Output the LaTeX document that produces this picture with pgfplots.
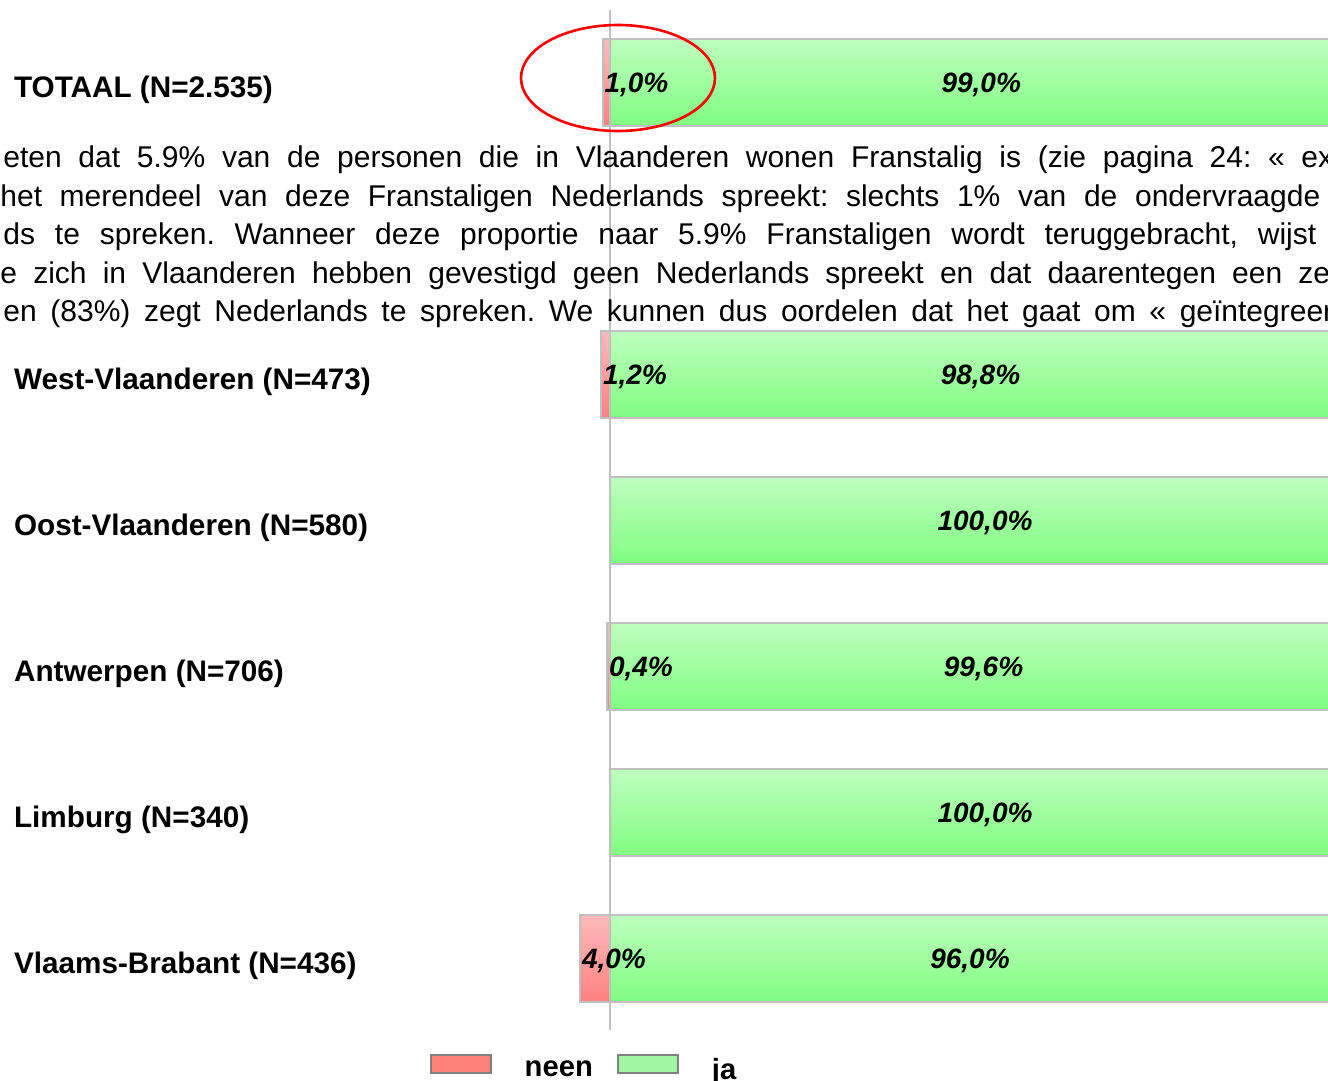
\documentclass[border=0pt]{standalone}
\usepackage{fontspec}
\setmainfont{Liberation Sans}
\usepackage{pgfplots}
\usepackage{pgfplotstable}
\pgfplotsset{compat=1.18}
\frenchspacing
\definecolor{grn1}{RGB}{190,255,190}
\definecolor{grn2}{RGB}{128,252,128}
\definecolor{red1}{RGB}{255,186,186}
\definecolor{red2}{RGB}{255,128,128}
\definecolor{bord}{RGB}{192,192,192}
\definecolor{legred}{RGB}{255,130,122}
\definecolor{leggrn}{RGB}{160,245,160}

\pgfplotstableread{
y x lab
0 -1.0 1,0\%
2 -1.2 1,2\%
4 -0.4 0,4\%
6 -4.0 4,0\%
}\neen
\pgfplotstableread{
y x lab
0 99.0 99,0\%
2 98.8 98,8\%
3 100.0 100,0\%
4 99.6 99,6\%
5 100.0 100,0\%
6 96.0 96,0\%
}\ja

\tikzset{valfont/.style={font=\bfseries\itshape\fontsize{14}{16}\selectfont}}
\pgfplotsset{
  redbar/.style={xbar, bar width=0.596, bar shift=0pt, draw=bord, line width=1pt,
    top color=red1, bottom color=red2, forget plot,
    nodes near coords, point meta=explicit symbolic,
    every node near coord/.append style={anchor=west, inner sep=0.5pt, yshift=-1pt, text=black, valfont}},
  grnbar/.style={xbar, bar width=0.596, bar shift=0pt, draw=bord, line width=1pt,
    top color=grn1, bottom color=grn2, forget plot},
}

\begin{document}
\begin{tikzpicture}
\begin{axis}[
  at={(0,0)}, anchor=north west,
  width=664pt, height=540.5pt, scale only axis,
  xmin=-81.33, xmax=95.73, ymin=-0.568, ymax=6.836, y dir=reverse,
  axis line style={draw=none}, xtick=\empty,
  ytick={0,2,3,4,5,6},
  yticklabels={TOTAAL (N=2.535), West-Vlaanderen (N=473), Oost-Vlaanderen (N=580), Antwerpen (N=706), Limburg (N=340), Vlaams-Brabant (N=436)},
  major tick length=0pt,
  yticklabel style={anchor=west, xshift=3.5pt, yshift=-3.5pt, font=\bfseries\fontsize{14.85}{17}\selectfont},
  legend columns=2,
  legend style={at={(axis description cs:0.4405,0.0102)}, anchor=center, draw=none, fill=none,
    font=\bfseries\fontsize{14.6}{17}\selectfont,
    /tikz/every odd column/.append style={column sep=14.5pt},
    /tikz/every even column/.append style={column sep=10pt}},
]
\addlegendimage{legend image code/.code={\draw[draw=gray, fill=legred, line width=1pt] (0pt,-1.5pt) rectangle (30pt,7.5pt);}}
\addlegendentry{neen}
\addlegendimage{legend image code/.code={\draw[draw=gray, fill=leggrn, line width=1pt] (0pt,-1.5pt) rectangle (30pt,7.5pt);}}
\addlegendentry{ja}
\draw[bord, line width=1.4pt] (axis cs:0,-0.5) -- (axis cs:0,6.486);
% neen bars (one per row, so that each has its own gradient)
\addplot[redbar, restrict y to domain=-0.1:0.1] table[x=x, y=y, meta=lab]{\neen};
\addplot[redbar, restrict y to domain=1.9:2.1] table[x=x, y=y, meta=lab]{\neen};
\addplot[redbar, restrict y to domain=3.9:4.1] table[x=x, y=y, meta=lab]{\neen};
\addplot[redbar, restrict y to domain=5.9:6.1] table[x=x, y=y, meta=lab]{\neen};
% ja bars
\addplot[grnbar, restrict y to domain=-0.1:0.1] table[x=x, y=y]{\ja};
\addplot[grnbar, restrict y to domain=1.9:2.1] table[x=x, y=y]{\ja};
\addplot[grnbar, restrict y to domain=2.9:3.1] table[x=x, y=y]{\ja};
\addplot[grnbar, restrict y to domain=3.9:4.1] table[x=x, y=y]{\ja};
\addplot[grnbar, restrict y to domain=4.9:5.1] table[x=x, y=y]{\ja};
\addplot[grnbar, restrict y to domain=5.9:6.1] table[x=x, y=y]{\ja};
% ja labels, centred in the bars
\addplot[draw=none, mark=none, forget plot, nodes near coords, point meta=explicit symbolic,
  every node near coord/.append style={anchor=center, yshift=-1pt, text=black, valfont}]
  table[x expr=\thisrow{x}/2, y=y, meta=lab]{\ja};
\end{axis}
\begin{scope}[x=0.5pt, y=-0.5pt]
\begin{scope}[every node/.style={anchor=base west, inner sep=0pt, font=\fontsize{15}{17}\selectfont}]
\node at (3,168) {\makebox[665pt][s]{eten dat 5.9\% van de personen die in Vlaanderen wonen Franstalig is (zie pagina 24: « ex}};
\node at (0,206) {\makebox[660pt][s]{het merendeel van deze Franstaligen Nederlands spreekt: slechts 1\% van de ondervraagde}};
\node at (3,244.5) {\makebox[656.5pt][s]{ds te spreken. Wanneer deze proportie naar 5.9\% Franstaligen wordt teruggebracht, wijst}};
\node at (0,283) {\makebox[665pt][s]{e zich in Vlaanderen hebben gevestigd geen Nederlands spreekt en dat daarentegen een ze}};
\node at (3,321) {\makebox[665pt][s]{en (83\%) zegt Nederlands te spreken. We kunnen dus oordelen dat het gaat om « geïntegreer}};
\end{scope}
\draw[red, line width=1.3pt] (618,78) ellipse [x radius=48.5pt, y radius=26.5pt];
\pgfresetboundingbox
\path[use as bounding box] (0,0) rectangle (1328,1081);
\end{scope}
\end{tikzpicture}
\end{document}
